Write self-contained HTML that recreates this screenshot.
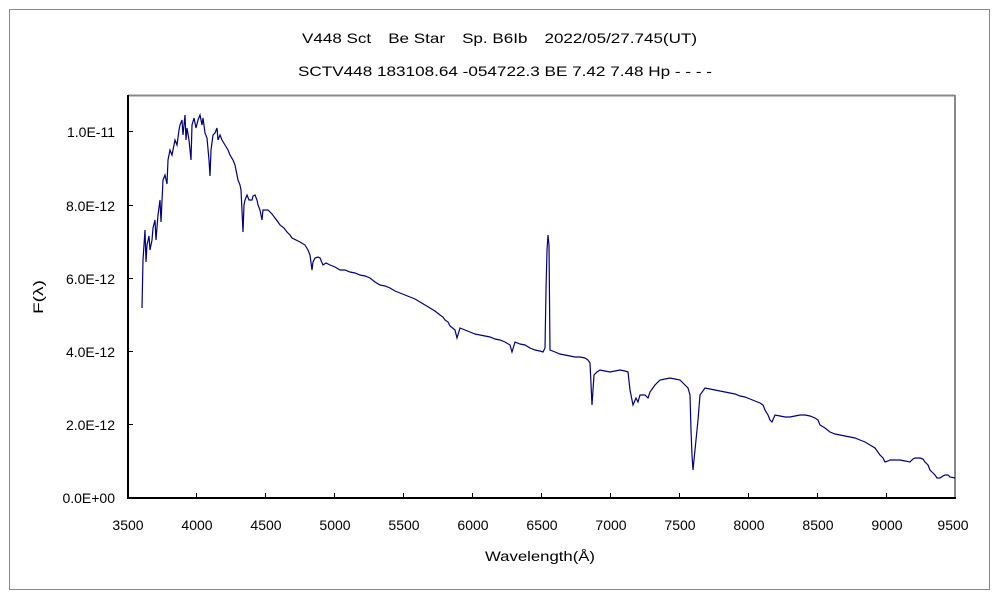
<!DOCTYPE html>
<html><head><meta charset="utf-8"><style>body{margin:0;background:#fff}</style></head><body>
<svg width="1000" height="600" xmlns="http://www.w3.org/2000/svg" font-family="Liberation Sans, sans-serif" font-size="14">
<rect x="0" y="0" width="1000" height="600" fill="#fff"/>
<rect x="9.5" y="9.5" width="980" height="580" fill="none" stroke="#888"/>
<text x="302" y="43" textLength="395" lengthAdjust="spacingAndGlyphs">V448 Sct　Be Star　Sp. B6Ib　2022/05/27.745(UT)</text>
<text x="298" y="76" textLength="414" lengthAdjust="spacingAndGlyphs">SCTV448 183108.64 -054722.3 BE 7.42 7.48 Hp - - - -</text>
<line x1="128" y1="95.5" x2="955" y2="95.5" stroke="#888" stroke-width="2"/>
<line x1="955" y1="95" x2="955" y2="498" stroke="#888" stroke-width="2"/>
<line x1="128" y1="95" x2="128" y2="498" stroke="#000" stroke-width="2"/>
<line x1="127" y1="498" x2="956" y2="498" stroke="#000" stroke-width="2"/>
<g stroke="#000" stroke-width="1">
<line x1="196.5" y1="498" x2="196.5" y2="493"/><line x1="265.5" y1="498" x2="265.5" y2="493"/><line x1="334.5" y1="498" x2="334.5" y2="493"/><line x1="403.5" y1="498" x2="403.5" y2="493"/><line x1="472.5" y1="498" x2="472.5" y2="493"/><line x1="541.5" y1="498" x2="541.5" y2="493"/><line x1="610.5" y1="498" x2="610.5" y2="493"/><line x1="679.5" y1="498" x2="679.5" y2="493"/><line x1="748.5" y1="498" x2="748.5" y2="493"/><line x1="817.5" y1="498" x2="817.5" y2="493"/><line x1="886.5" y1="498" x2="886.5" y2="493"/>
<line x1="128" y1="424.5" x2="133" y2="424.5"/><line x1="128" y1="351.5" x2="133" y2="351.5"/><line x1="128" y1="278.5" x2="133" y2="278.5"/><line x1="128" y1="205.5" x2="133" y2="205.5"/><line x1="128" y1="131.5" x2="133" y2="131.5"/>
</g>
<g text-anchor="end">
<text x="115" y="503">0.0E+00</text><text x="115" y="430">2.0E-12</text><text x="115" y="357">4.0E-12</text><text x="115" y="284">6.0E-12</text><text x="115" y="211">8.0E-12</text><text x="115" y="137">1.0E-11</text>
</g>
<g text-anchor="middle">
<text x="128" y="530">3500</text><text x="197" y="530">4000</text><text x="266" y="530">4500</text><text x="335" y="530">5000</text><text x="404" y="530">5500</text><text x="473" y="530">6000</text><text x="542" y="530">6500</text><text x="611" y="530">7000</text><text x="680" y="530">7500</text><text x="749" y="530">8000</text><text x="818" y="530">8500</text><text x="887" y="530">9000</text><text x="953" y="530">9500</text>
<text x="540" y="561" textLength="110" lengthAdjust="spacingAndGlyphs">Wavelength(Å)</text>
<text transform="translate(43,297) rotate(-90)" textLength="34" lengthAdjust="spacingAndGlyphs">F(λ)</text>
</g>
<polyline fill="none" stroke="#000080" stroke-width="1.2" points="142,308 143,260 145,230 146,262 147,245 149,236 150,250 152,240 153,228 155,220 156,240 158,215 160,200 161,222 163,180 165,175 167,184 168,160 170,150 172,155 174,145 175,140 177,145 179,130 180,125 182,120 183,135 185,115 186,140 187,128 189,140 190,150 191,160 192,125 194,118 196,128 198,120 200,115 202,125 203,118 205,133 207,138 209,160 210,176 211,150 213,135 215,133 217,128 218,140 220,135 222,140 225,145 228,150 230,155 233,160 235,165 237,175 238,180 240,185 241,190 243,232 244,205 245,200 247,195 249,200 250,200 252,200 253,196 255,195 257,200 258,205 260,210 262,220 263,210 266,210 268,210 270,212 272,214 275,218 278,222 280,225 284,228 287,232 290,235 292,238 296,240 300,242 305,245 308,250 310,255 312,270 313,262 315,258 318,257 320,258 323,265 326,263 330,265 335,267 340,270 345,270 350,272 355,273 360,275 365,276 370,278 375,282 380,285 385,286 390,288 395,291 400,293 405,295 410,297 415,299 420,302 425,305 430,308 435,311 440,315 443,317 445,320 448,322 450,326 455,330 457,338 460,328 465,330 470,332 475,334 480,335 485,336 490,337 495,339 500,340 505,342 510,345 512,352 515,342 520,344 525,345 530,348 535,350 540,351 543,352 545,348 546,290 547,250 548,235 549,245 550,350 555,352 560,354 565,355 570,356 575,357 580,357 585,358 588,360 590,363 592,405 594,375 597,372 600,370 605,371 610,372 615,371 620,370 625,371 628,372 630,390 633,405 636,398 638,402 640,395 645,395 648,398 650,392 655,385 660,380 665,379 670,378 675,379 680,380 685,385 688,388 690,395 691,430 692,455 693,470 694,460 696,440 698,420 700,395 705,388 710,389 715,390 720,391 725,392 730,393 735,394 740,396 745,397 750,399 755,401 760,403 763,405 765,410 768,415 770,420 772,422 775,415 780,416 785,417 790,417 795,416 800,415 805,415 810,416 815,418 818,420 820,425 825,428 830,432 835,434 840,435 845,436 850,437 855,438 860,440 865,442 870,445 875,448 880,455 883,458 885,462 888,461 890,460 895,460 900,460 905,461 910,462 913,459 915,458 920,458 923,459 925,462 928,465 930,470 933,473 935,475 937,478 940,478 943,476 945,475 948,475 950,477 955,478"/>
</svg>
</body></html>
